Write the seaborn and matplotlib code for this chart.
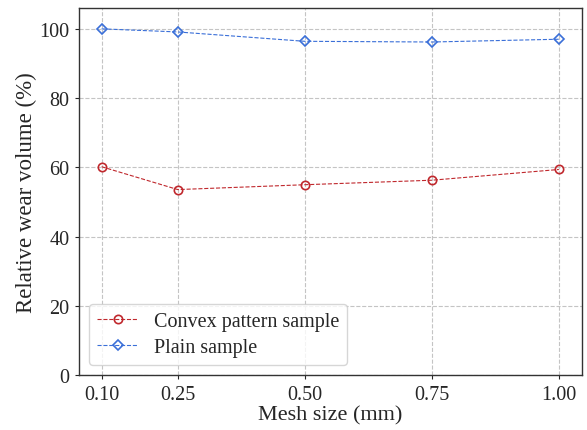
import matplotlib
matplotlib.use("Agg")
import matplotlib.pyplot as plt
import seaborn as sns
import pandas as pd

mesh = [0.10, 0.25, 0.50, 0.75, 1.00]
convex = [60.2, 53.6, 55.0, 56.3, 59.4]
plain = [100.0, 99.1, 96.4, 96.2, 97.0]
xticklabels = ["0.10", "0.25", "0.50", "0.75", "1.00"]

sns.set_style("white")
plt.rcParams['font.family'] = ['Liberation Serif', 'DejaVu Serif']

df = pd.DataFrame({
    "mesh": mesh * 2,
    "value": convex + plain,
    "series": ["Convex pattern sample"] * 5 + ["Plain sample"] * 5,
})

fig, ax = plt.subplots(figsize=(5.87, 4.31), dpi=100)
fig.subplots_adjust(left=0.135, right=0.991, top=0.979, bottom=0.127)

colors = {"Convex pattern sample": "#c0282d", "Plain sample": "#3a6fd8"}
markers = {"Convex pattern sample": "o", "Plain sample": "D"}
for name in ["Convex pattern sample", "Plain sample"]:
    sub = df[df.series == name]
    sns.lineplot(data=sub, x="mesh", y="value", ax=ax, color=colors[name],
                 marker=markers[name], markersize=6 if name.startswith("C") else 5.5,
                 markerfacecolor="none", markeredgecolor=colors[name],
                 markeredgewidth=1.2, linestyle="--", linewidth=0.8, label=name)

ax.set_xlim(0.056, 1.045)
ax.set_ylim(0, 106)
ax.set_xticks(mesh)
ax.set_xticklabels(xticklabels)
ax.set_yticks([0, 20, 40, 60, 80, 100])
ax.tick_params(axis="both", labelsize=14.5, length=3, width=0.8, direction="out", bottom=True, left=True, pad=4)
ax.set_xlabel("Mesh size (mm)", fontsize=16, labelpad=1)
ax.set_ylabel("Relative wear volume (%)", fontsize=16.5, labelpad=2)
ax.grid(True, linestyle="--", color="#c4c4c4", linewidth=0.8)
for s in ax.spines.values():
    s.set_color("#333333")
    s.set_linewidth(1.0)
leg = ax.legend(loc="lower left", fontsize=14.5, frameon=True, borderaxespad=0.5,
                handlelength=2.0, borderpad=0.4, labelspacing=0.35, handletextpad=0.8)
leg.get_frame().set_edgecolor("#cccccc")
fig.savefig("out.png", dpi=100)
